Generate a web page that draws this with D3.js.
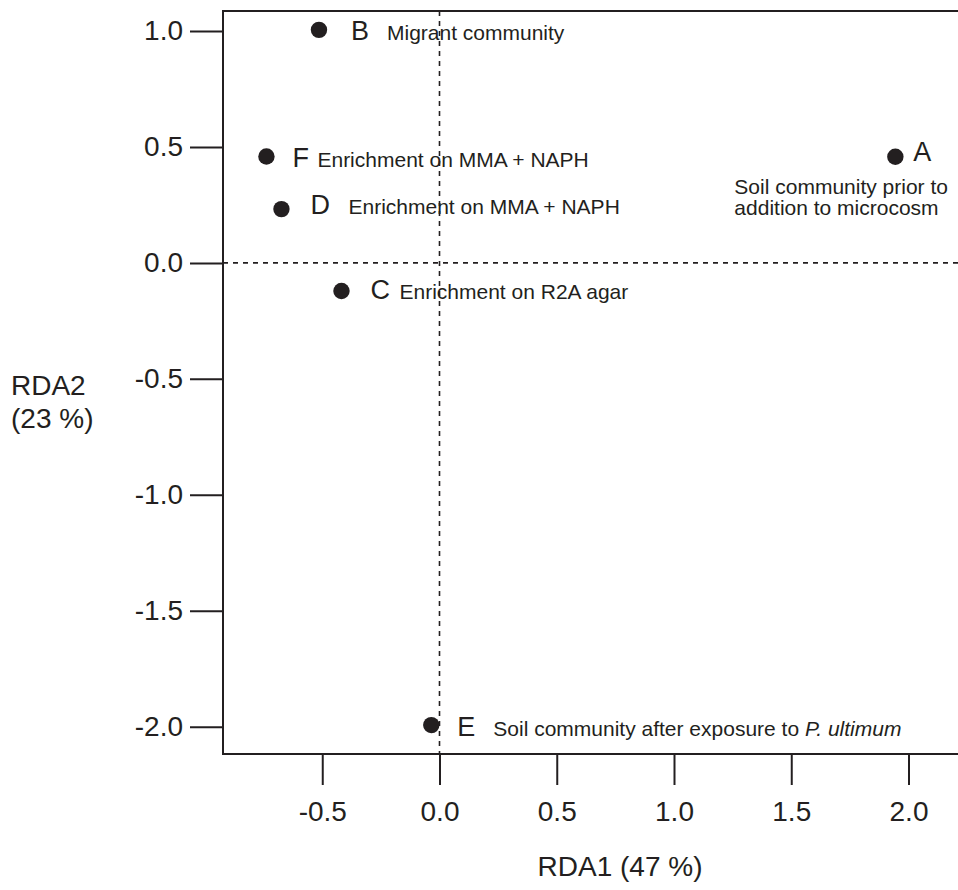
<!DOCTYPE html>
<html>
<head>
<meta charset="utf-8">
<title>RDA ordination</title>
<script src="https://cdn.jsdelivr.net/npm/d3@7"></script>
<style>
	html, body { margin: 0; padding: 0; background: #fff; overflow: hidden; }
	svg { display: block; font-family: "Liberation Sans", Arial, sans-serif; }
	.axis text { fill: #231f20; }
	.axis line { stroke: #231f20; stroke-width: 2; }
</style>
</head>
<body>
<svg id="chart" width="958" height="890"></svg>
<script>
'use strict';

// Minták és koordinátáik az ordinációban.
var sampleIds = ["A", "B", "C", "D", "E", "F"];
var rda1Scores = [1.944, -0.514, -0.418, -0.674, -0.035, -0.738];
var rda2Scores = [0.458, 1.005, -0.121, 0.232, -1.993, 0.459];
var sampleNotes = [
	["Soil community prior to", "addition to microcosm"],
	["Migrant community"],
	["Enrichment on R2A agar"],
	["Enrichment on MMA + NAPH"],
	["Soil community after exposure to ", "P. ultimum"],
	["Enrichment on MMA + NAPH"]
];

var xTicks = [-0.5, 0.0, 0.5, 1.0, 1.5, 2.0];
var yTicks = [-2.0, -1.5, -1.0, -0.5, 0.0, 0.5, 1.0];
var xTitle = "RDA1 (47 %)";
var yTitle = ["RDA2", "(23 %)"];

var ink = "#231f20";
var W = 958, H = 890;

var x = d3.scaleLinear().domain([0, 2]).range([439.5, 908.5]);
var y = d3.scaleLinear().domain([-2, 1]).range([726.7, 31]);

// A keret: bal, felső, alsó él (jobbra kifut a képből).
var frame = {left: 223, top: 11, bottom: 754, right: W + 10};

var svg = d3.select("#chart");

// Címke-elhelyezés pontonként (betű és leírás eltolása pixelben).
var labelPlace = {
	A: {lx: 18, ly: 4, nx: -161, ny: 37, lineGap: 21},
	B: {lx: 32, ly: 10, nx: 68, ny: 10},
	C: {lx: 29, ly: 8, nx: 58, ny: 8},
	D: {lx: 29, ly: 5, nx: 67, ny: 5},
	E: {lx: 26, ly: 11, nx: 62, ny: 11, italicTail: true},
	F: {lx: 26, ly: 11, nx: 51, ny: 11}
};

// Szaggatott nullvonalak.
svg.append("line")
		.attr("x1", x(0)).attr("x2", x(0))
		.attr("y1", frame.top).attr("y2", frame.bottom)
		.attr("stroke", ink).attr("stroke-width", 1.6)
		.attr("stroke-dasharray", "5,5");
svg.append("line")
		.attr("x1", frame.left).attr("x2", frame.right)
		.attr("y1", y(0)).attr("y2", y(0))
		.attr("stroke", ink).attr("stroke-width", 1.6)
		.attr("stroke-dasharray", "5,5");

// Tengelyek.
var fmt = function(d) { return d.toFixed(1); };

var gy = svg.append("g")
		.attr("class", "axis")
		.attr("transform", "translate(" + frame.left + ",0)")
		.call(d3.axisLeft(y).tickValues(yTicks).tickFormat(fmt).tickSize(33).tickPadding(7));
gy.select(".domain").remove();
gy.selectAll("text").attr("font-size", 28).attr("font-family", null);

var gx = svg.append("g")
		.attr("class", "axis")
		.attr("transform", "translate(0," + frame.bottom + ")")
		.call(d3.axisBottom(x).tickValues(xTicks).tickFormat(fmt).tickSize(31).tickPadding(16));
gx.select(".domain").remove();
gx.selectAll("text").attr("font-size", 28).attr("font-family", null);

// Keret.
svg.append("path")
		.attr("d", "M" + frame.right + "," + frame.top + "H" + frame.left + "V" + frame.bottom + "H" + frame.right)
		.attr("fill", "none")
		.attr("stroke", ink)
		.attr("stroke-width", 2);

// Tengelycímek.
svg.append("text")
		.attr("x", 620).attr("y", 876)
		.attr("text-anchor", "middle")
		.attr("font-size", 28)
		.attr("fill", ink)
		.text(xTitle);

svg.append("text")
		.attr("x", 11).attr("y", 395)
		.attr("font-size", 28)
		.attr("fill", ink)
		.selectAll("tspan").data(yTitle)
		.enter().append("tspan")
		.attr("x", 11)
		.attr("dy", function(d, i) { return i === 0 ? 0 : 33; })
		.text(function(d) { return d; });

// Pontok és feliratok.
var samples = sampleIds.map(function(id, i) {
	return {id: id, r1: rda1Scores[i], r2: rda2Scores[i], note: sampleNotes[i]};
});

var gPts = svg.selectAll("g.sample").data(samples)
		.enter().append("g")
		.attr("class", "sample")
		.attr("transform", function(d) { return "translate(" + x(d.r1) + "," + y(d.r2) + ")"; });

gPts.append("circle")
		.attr("r", 8.2)
		.attr("fill", ink);

gPts.append("text")
		.attr("x", function(d) { return labelPlace[d.id].lx; })
		.attr("y", function(d) { return labelPlace[d.id].ly; })
		.attr("font-size", 27)
		.attr("fill", ink)
		.text(function(d) { return d.id; });

gPts.each(function(d) {
	var p = labelPlace[d.id];
	var t = d3.select(this).append("text")
			.attr("x", p.nx)
			.attr("y", p.ny)
			.attr("font-size", 21)
			.attr("fill", ink);
	if (p.italicTail) {
		// Egy sor, a fajnév dőlt.
		t.append("tspan").text(d.note[0]);
		t.append("tspan").attr("font-style", "italic").text(d.note[1]);
	} else {
		t.selectAll("tspan").data(d.note)
				.enter().append("tspan")
				.attr("x", p.nx)
				.attr("dy", function(s, i) { return i === 0 ? 0 : p.lineGap; })
				.text(function(s) { return s; });
	}
});
</script>
</body>
</html>
